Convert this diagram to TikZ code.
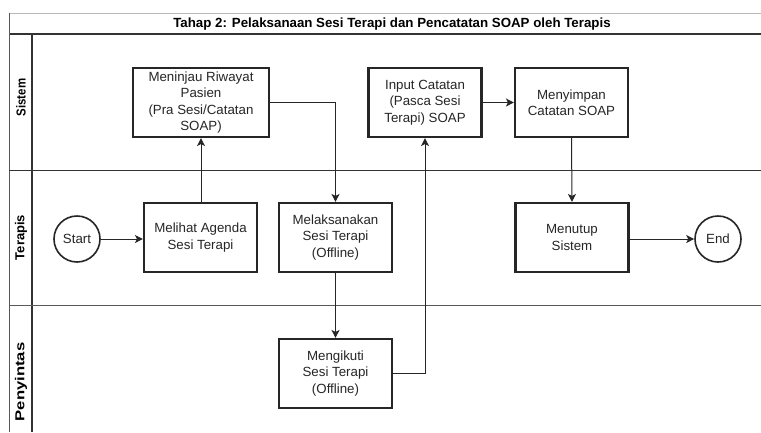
\documentclass[tikz,border=0pt]{standalone}
\usepackage{fontspec}
\setmainfont{Liberation Sans}
\usetikzlibrary{arrows.meta}
\definecolor{ink}{HTML}{262626}
\definecolor{lane}{HTML}{333333}
\begin{document}
\begin{tikzpicture}[x=1pt,y=-1pt,
  every node/.style={text=ink},
  procbox/.style={draw=ink, line width=2.1pt, fill=white, minimum width=113pt, minimum height=69pt,
    align=center, inner sep=2pt, font=\fontsize{13.3}{16.5}\selectfont},
  terminal/.style={draw=ink, line width=1.6pt, fill=white, circle, minimum size=46pt, inner sep=0pt,
    font=\fontsize{13.3}{16}\selectfont},
  flow/.style={draw=ink, line width=1pt, -{Stealth[length=8pt,width=8pt,inset=2pt]}},
  laneline/.style={draw=lane, line width=1.1pt},
  lanelabel/.style={rotate=90, font=\bfseries\fontsize{13}{15}\selectfont, text=black}
]
\useasboundingbox (0,0) rectangle (761,432);
\fill[white] (0,0) rectangle (761,432);

% frame and lanes
\draw[gray!55, line width=1pt] (9,13) -- (761,13);
\draw[laneline, line width=1.4pt] (9,34) -- (761,34);
\draw[gray!70!black, line width=1pt] (9,13) -- (9,432);
\draw[laneline] (32,34) -- (32,432);
\draw[laneline] (9,170.5) -- (761,170.5);
\draw[laneline, draw=gray!70!black] (9,305.5) -- (761,305.5);

\node[font=\bfseries\fontsize{13.3}{15}\selectfont, text=black] (title) at (392,24) {Tahap 2: Pelaksanaan Sesi Terapi dan Pencatatan SOAP oleh Terapis};

\node[lanelabel] (lsistem) at (21,97.5) {\scalebox{0.88}[1]{Sistem}};
\node[lanelabel] (lterapis) at (21,237.5) {Terapis};
\node[lanelabel] (lpenyintas) at (21,382) {\scalebox{1.28}[1]{Penyintas}};

% nodes
\node[procbox, minimum width=136pt] (meninjau) at (201,102.5) {Meninjau Riwayat\\Pasien\\(Pra Sesi/Catatan\\SOAP)};
\node[procbox] (input) at (425,102.5) {Input Catatan\\(Pasca Sesi\\Terapi) SOAP};
\node[procbox] (menyimpan) at (571.5,102.5) {Menyimpan\\Catatan SOAP};
\node[procbox] (melihat) at (200.5,237.5) {Melihat Agenda\\Sesi Terapi};
\node[procbox] (melaksanakan) at (335.5,237.5) {Melaksanakan\\Sesi Terapi\\(Offline)};
\node[procbox] (menutup) at (572,237.5) {Menutup\\Sistem};
\node[procbox] (mengikuti) at (335.5,373.5) {Mengikuti\\Sesi Terapi\\(Offline)};
\node[terminal] (start) at (77,239) {Start};
\node[terminal] (end) at (718,239) {End};

% connectors
\draw[flow] (start) -- (start -| melihat.west);
\draw[flow] (melihat.north -| meninjau.south) -- (meninjau.south);
\draw[flow] (meninjau.east) -| (melaksanakan.north);
\draw[flow] (melaksanakan.south) -- (mengikuti.north);
\draw[flow] (mengikuti.east) -| (input.south);
\draw[flow] (input.east) -- (menyimpan.west);
\draw[flow] (menyimpan.south) -- (menutup.north);
\draw[flow] (menutup.east |- end) -- (end.west);
\end{tikzpicture}
\end{document}
